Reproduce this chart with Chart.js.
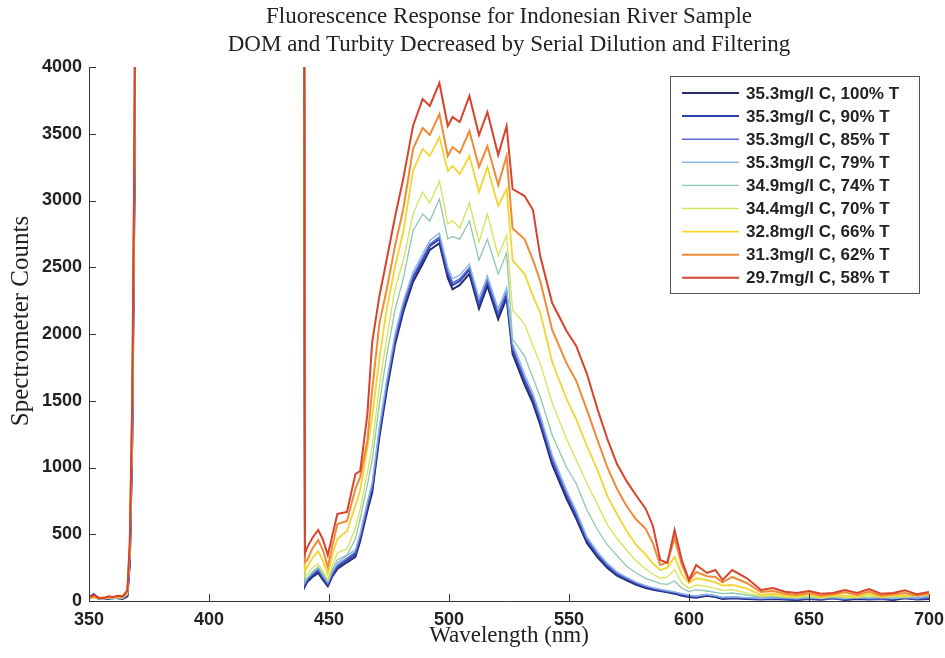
<!DOCTYPE html>
<html>
<head>
<meta charset="utf-8">
<title>Fluorescence Response for Indonesian River Sample</title>
<script src="https://cdn.jsdelivr.net/npm/chart.js@4.4.1/dist/chart.umd.min.js"></script>
<style>
  html, body { margin: 0; padding: 0; background: #fff; }
  #wrap { width: 945px; height: 658px; position: relative; }
</style>
</head>
<body>
<div id="wrap"><canvas id="spectrumChart"></canvas></div>
<script>
'use strict';

// ===== DATA =====
const wavelengths = [
  350, 352, 354, 356, 358, 360, 362, 364, 366, 367,
  368, 369, 369.5, 439.5, 440, 441, 443, 445.5, 447.5, 449.5,
  451.5, 453.5, 457.5, 461, 463, 466, 468, 471, 474, 477.5,
  481, 485, 489, 492, 496, 499.5, 501.5, 504.5, 508.5, 512.5,
  516, 520.5, 524, 526.5, 531.5, 535, 538, 543, 549, 553,
  557.5, 562, 566, 570, 574, 578, 582, 585, 588, 591,
  594, 597, 600, 603, 607.5, 611, 614, 618, 624, 630,
  635, 640, 645, 650, 655, 660, 665, 670, 675, 680,
  685, 690, 695, 700
];

const seriesLabels = [
  '35.3mg/l C, 100% T',
  '35.3mg/l C, 90% T',
  '35.3mg/l C, 85% T',
  '35.3mg/l C, 79% T',
  '34.9mg/l C, 74% T',
  '34.4mg/l C, 70% T',
  '32.8mg/l C, 66% T',
  '31.3mg/l C, 62% T',
  '29.7mg/l C, 58% T'
];

const t100 = [
  30, 50, 20, 25, 15, 25, 20, 15, 35, 280,
  1180, 3150, 6000, 6000, 110, 145, 178, 210, 158, 110,
  188, 240, 290, 330, 450, 675, 812, 1230, 1570, 1920,
  2170, 2390, 2525, 2630, 2680, 2420, 2335, 2368, 2450, 2190,
  2360, 2110, 2270, 1850, 1620, 1480, 1320, 1022, 765, 618,
  432, 325, 248, 190, 155, 122, 98, 84, 75, 65,
  55, 40, 30, 25, 40, 30, 15, 20, 15, 12,
  15, 12, 8, 15, 10, 20, 8, 15, 12, 15,
  8, 20, 12, 15
];
const t90 = [
  20, 40, 15, 20, 15, 20, 25, 20, 40, 300,
  1200, 3200, 6000, 6000, 120, 157, 190, 225, 170, 120,
  200, 255, 307, 350, 470, 700, 839, 1260, 1600, 1950,
  2200, 2419, 2554, 2659, 2711, 2450, 2367, 2397, 2480, 2220,
  2390, 2140, 2300, 1880, 1650, 1510, 1350, 1050, 790, 640,
  450, 340, 260, 200, 165, 130, 105, 90, 80, 70,
  60, 45, 35, 30, 45, 35, 20, 25, 20, 15,
  20, 15, 10, 20, 15, 25, 10, 20, 15, 20,
  10, 25, 15, 20
];
const t85 = [
  25, 35, 20, 15, 20, 25, 20, 25, 45, 310,
  1220, 3250, 6000, 6000, 130, 165, 200, 238, 180, 130,
  212, 268, 320, 365, 485, 718, 860, 1280, 1620, 1968,
  2218, 2435, 2570, 2672, 2728, 2468, 2385, 2412, 2496, 2238,
  2405, 2158, 2315, 1898, 1668, 1525, 1365, 1066, 805, 655,
  462, 350, 270, 208, 170, 136, 110, 95, 84, 74,
  65, 50, 40, 35, 48, 38, 25, 30, 22, 18,
  25, 20, 15, 22, 18, 20, 15, 25, 18, 15,
  20, 22, 18, 25
];
const t79 = [
  15, 30, 25, 20, 20, 15, 25, 20, 50, 320,
  1240, 3300, 6000, 6000, 140, 175, 212, 250, 195, 140,
  225, 285, 340, 385, 510, 745, 890, 1310, 1650, 2000,
  2250, 2465, 2600, 2700, 2755, 2500, 2415, 2440, 2525, 2270,
  2435, 2190, 2345, 1930, 1700, 1555, 1395, 1095, 830, 675,
  480, 365, 282, 218, 178, 142, 115, 100, 88, 78,
  68, 55, 45, 38, 50, 40, 28, 32, 25, 20,
  22, 25, 18, 28, 20, 30, 18, 25, 22, 28,
  18, 30, 22, 35
];
const t74 = [
  15, 25, 15, 20, 20, 25, 25, 20, 55, 360,
  1300, 3350, 6000, 6000, 150, 172, 215, 255, 200, 150,
  240, 307, 345, 464, 620, 870, 1056, 1480, 1835, 2180,
  2419, 2771, 2899, 2846, 3011, 2711, 2730, 2711, 2846, 2554,
  2711, 2449, 2607, 1962, 1835, 1670, 1530, 1243, 1000, 880,
  680, 530, 420, 340, 260, 210, 170, 150, 130, 125,
  150, 95, 70, 85, 75, 65, 55, 60, 45, 30,
  35, 25, 30, 20, 25, 30, 20, 30, 25, 35,
  20, 30, 40, 35
];
const t70 = [
  20, 25, 20, 15, 25, 20, 30, 25, 60, 380,
  1350, 3400, 6000, 6000, 180, 202, 245, 277, 220, 157,
  270, 360, 390, 547, 690, 960, 1161, 1610, 1962, 2337,
  2554, 2899, 3063, 2981, 3146, 2824, 2850, 2794, 2981, 2689,
  2899, 2584, 2741, 2180, 2075, 1910, 1780, 1483, 1213, 1056,
  880, 720, 570, 470, 380, 300, 240, 200, 170, 180,
  235, 135, 95, 120, 110, 95, 80, 85, 60, 35,
  40, 30, 25, 40, 20, 35, 30, 25, 40, 25,
  35, 30, 45, 55
];
const t66 = [
  20, 30, 25, 20, 25, 30, 30, 25, 65, 400,
  1400, 3450, 6000, 6000, 230, 255, 320, 374, 300, 202,
  350, 464, 524, 711, 830, 1150, 1378, 1820, 2180, 2502,
  2771, 3221, 3386, 3333, 3475, 3221, 3260, 3198, 3333, 3063,
  3251, 2959, 3086, 2554, 2449, 2284, 2160, 1790, 1513, 1360,
  1161, 974, 786, 652, 524, 420, 345, 280, 232, 250,
  330, 200, 135, 170, 157, 140, 115, 120, 95, 45,
  55, 40, 35, 50, 30, 45, 40, 35, 55, 30,
  45, 40, 50, 45
];
const t62 = [
  25, 35, 20, 25, 30, 25, 35, 30, 70, 420,
  1450, 3500, 6000, 6000, 290, 307, 390, 457, 380, 255,
  420, 577, 600, 840, 930, 1200, 1580, 2080, 2330, 2659,
  2940, 3386, 3543, 3490, 3648, 3333, 3400, 3356, 3520, 3251,
  3408, 3116, 3333, 2790, 2711, 2554, 2397, 2030, 1780, 1650,
  1430, 1200, 1000, 839, 711, 610, 540, 430, 270, 290,
  470, 270, 150, 217, 185, 180, 140, 180, 135, 67,
  75, 55, 45, 60, 40, 50, 65, 45, 70, 40,
  50, 60, 40, 55
];
const t58 = [
  30, 45, 25, 20, 35, 30, 40, 35, 80, 450,
  1500, 3600, 6000, 6000, 360, 404, 470, 532, 460, 344,
  500, 652, 667, 951, 974, 1400, 1940, 2285, 2554, 2876,
  3168, 3558, 3760, 3708, 3880, 3558, 3625, 3588, 3783, 3490,
  3662, 3340, 3558, 3086, 3033, 2929, 2584, 2232, 2022, 1910,
  1700, 1430, 1213, 1026, 898, 790, 690, 560, 307, 285,
  532, 307, 157, 270, 210, 232, 157, 232, 172, 82,
  97, 70, 60, 75, 55, 60, 82, 60, 90, 55,
  60, 80, 50, 67
];

const xTicks = [350, 400, 450, 500, 550, 600, 650, 700];
const yTicks = [0, 500, 1000, 1500, 2000, 2500, 3000, 3500, 4000];

const titleLines = [
  'Fluorescence Response for Indonesian River Sample',
  'DOM and Turbity Decreased by Serial Dilution and Filtering'
];
const yTitle = 'Spectrometer Counts';

// ===== STYLES =====
const lineColors = ['#262a72', '#2c3fae', '#5a6ad0', '#8fb8e6', '#8cc8b0',
                    '#d6e35a', '#f4d42e', '#f08a36', '#d8432c'];
const lineWidths = [2, 2, 1.6, 1.4, 1.3, 1.3, 1.8, 2, 2];
const SANS = "'Liberation Sans', Arial, sans-serif";
const SERIF = "'Liberation Serif', 'Times New Roman', serif";
const INK = '#222';

const seriesValues = [t100, t90, t85, t79, t74, t70, t66, t62, t58];

const datasets = seriesValues.map(function(vals, i) {
    return {
        label: seriesLabels[i],
        data: vals.map(function(v, k) { return { x: wavelengths[k], y: v }; }),
        borderColor: lineColors[i],
        backgroundColor: lineColors[i],
        borderWidth: lineWidths[i],
        pointRadius: 0,
        tension: 0,
        fill: false,
        order: seriesValues.length - 1 - i  // red ends up on top
    };
});

// plain numbers on the axes, no thousands comma
function plainTick(value) { return String(value); }

// ===== PLUGINS =====
// titles centred over the plot area, like matlab
const plotTitle = {
    id: 'plotTitle',
    afterDraw(chart) {
        const { ctx, chartArea } = chart;
        const cx = (chartArea.left + chartArea.right) / 2;
        ctx.save();
        ctx.fillStyle = INK;
        ctx.font = '23px ' + SERIF;
        ctx.textAlign = 'center';
        ctx.textBaseline = 'middle';
        ctx.fillText(titleLines[0], cx, 17);
        ctx.fillText(titleLines[1], cx, 45);
        // y label sits a bit above the middle in the scan
        ctx.font = '25px ' + SERIF;
        ctx.translate(21, 321);
        ctx.rotate(-Math.PI / 2);
        ctx.fillText(yTitle, 0, 0);
        ctx.restore();
    }
};

// tick marks pointing into the plot
const inwardTicks = {
    id: 'inwardTicks',
    afterDatasetsDraw(chart) {
        const { ctx, chartArea, scales } = chart;
        ctx.save();
        ctx.strokeStyle = '#333';
        ctx.lineWidth = 1;
        ctx.beginPath();
        xTicks.forEach(function(v) {
            const px = Math.round(scales.x.getPixelForValue(v)) + 0.5;
            ctx.moveTo(px, chartArea.bottom);
            ctx.lineTo(px, chartArea.bottom - 7);
        });
        yTicks.forEach(function(v) {
            const py = Math.round(scales.y.getPixelForValue(v)) + 0.5;
            ctx.moveTo(chartArea.left, py);
            ctx.lineTo(chartArea.left + 7, py);
        });
        ctx.stroke();
        ctx.restore();
    }
};

// boxed legend in the top right corner of the axes
const boxLegend = {
    id: 'boxLegend',
    afterDraw(chart) {
        const ctx = chart.ctx;
        const bx = 670, by = 76, bw = 249, bh = 217;
        ctx.save();
        ctx.fillStyle = '#fff';
        ctx.fillRect(bx, by, bw, bh);
        ctx.strokeStyle = '#555';
        ctx.lineWidth = 1;
        ctx.strokeRect(bx + 0.5, by + 0.5, bw, bh);
        ctx.font = 'bold 17px ' + SANS;
        ctx.textBaseline = 'middle';
        chart.data.datasets.forEach(function(ds, i) {
            const y = by + 17 + i * 23.1;
            ctx.strokeStyle = ds.borderColor;
            ctx.lineWidth = ds.borderWidth;
            ctx.beginPath();
            ctx.moveTo(bx + 12, y);
            ctx.lineTo(bx + 69, y);
            ctx.stroke();
            ctx.fillStyle = INK;
            ctx.fillText(ds.label, bx + 76, y + 1);
        });
        ctx.restore();
    }
};

// ===== CHART =====
document.addEventListener('DOMContentLoaded', function() {
    const canvas = document.getElementById('spectrumChart');
    if (!canvas || typeof Chart === 'undefined') return;

    new Chart(canvas, {
        type: 'line',
        data: { datasets: datasets },
        options: {
            responsive: true,
            maintainAspectRatio: false,
            animation: false,
            layout: { padding: { left: 7, top: 67, right: 16, bottom: 8 } },
            plugins: {
                legend: { display: false },
                tooltip: { enabled: false },
                title: { display: false }
            },
            scales: {
                x: {
                    type: 'linear',
                    min: 350,
                    max: 700,
                    afterBuildTicks(axis) { axis.ticks = xTicks.map(function(v) { return { value: v }; }); },
                    afterFit(axis) {
                        axis.height = 49;
                        // end labels may hang past the axis, don't shrink the plot for them
                        axis.paddingLeft = 0;
                        axis.paddingRight = 0;
                    },
                    grid: { display: false, drawTicks: false },
                    border: { display: true, color: '#333', width: 1 },
                    ticks: { color: INK, font: { family: SANS, size: 18, weight: 'bold' }, padding: 8, maxRotation: 0, callback: plainTick },
                    title: { display: true, text: 'Wavelength (nm)', color: INK, font: { family: SERIF, size: 23 }, padding: 0 }
                },
                y: {
                    type: 'linear',
                    min: 0,
                    max: 4000,
                    afterBuildTicks(axis) { axis.ticks = yTicks.map(function(v) { return { value: v }; }); },
                    afterFit(axis) {
                        axis.width = 82;
                        axis.paddingTop = 0;
                        axis.paddingBottom = 0;
                    },
                    grid: { display: false, drawTicks: false },
                    border: { display: true, color: '#333', width: 1 },
                    ticks: { color: INK, font: { family: SANS, size: 18, weight: 'bold' }, padding: 7, callback: plainTick },
                    title: { display: false }
                }
            }
        },
        plugins: [plotTitle, inwardTicks, boxLegend]
    });
});
</script>
</body>
</html>
